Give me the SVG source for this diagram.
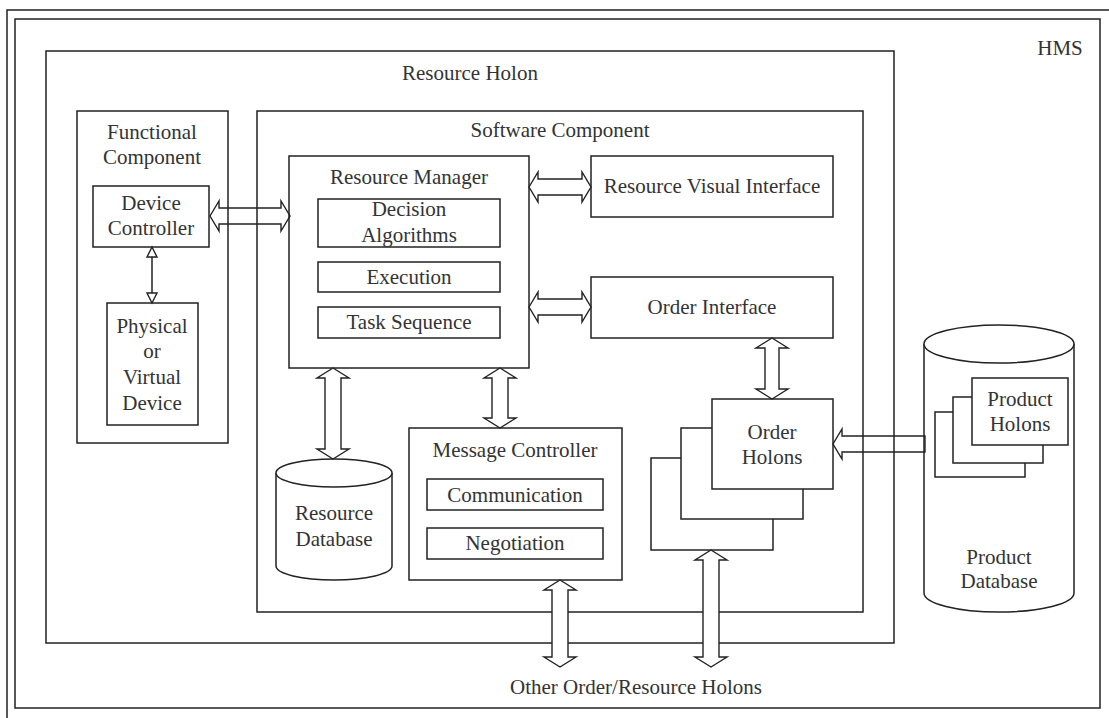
<svg xmlns="http://www.w3.org/2000/svg" width="1109" height="718" viewBox="0 0 1109 718">
<style>
.b{fill:#fff;stroke:#222;stroke-width:1.5}
.n{fill:none;stroke:#222;stroke-width:1.5}
.a{fill:none;stroke:#222;stroke-width:1.4;stroke-linejoin:miter}
.aw{fill:#fff;stroke:#222;stroke-width:1.4}
text{font-family:"Liberation Serif","Times New Roman",serif;font-size:21px;fill:#333;text-anchor:middle}
</style>
<rect width="1109" height="718" fill="#fff"/>
<g id="frame">
<path class="n" d="M7,718 L7,10 L1109,10"/>
</g>
<g id="hms">
<rect class="b" x="15" y="19" width="1085" height="689"/>
<text x="1060" y="55">HMS</text>
</g>
<g id="resource-holon">
<rect class="b" x="46" y="51" width="848" height="592"/>
<text x="470" y="80">Resource Holon</text>
</g>
<g id="functional-component">
<rect class="b" x="77" y="111" width="151" height="332"/>
<text x="152" y="139">Functional</text>
<text x="152" y="164">Component</text>
</g>
<g id="software-component">
<rect class="b" x="257" y="111" width="606" height="501"/>
<text x="560" y="137">Software Component</text>
</g>
<g id="device-controller">
<rect class="b" x="93" y="186" width="116" height="61"/>
<text x="151" y="210">Device</text>
<text x="151" y="235">Controller</text>
</g>
<g id="physical-device">
<rect class="b" x="107" y="303" width="91" height="122"/>
<text x="152" y="333">Physical</text>
<text x="152" y="358">or</text>
<text x="152" y="384">Virtual</text>
<text x="152" y="410">Device</text>
</g>
<g id="resource-manager">
<rect class="b" x="289" y="156" width="240" height="212"/>
<text x="409" y="184">Resource Manager</text>
<rect class="b" x="318" y="199" width="182" height="48"/>
<text x="409" y="216">Decision</text>
<text x="409" y="242">Algorithms</text>
<rect class="b" x="318" y="262" width="182" height="30"/>
<text x="409" y="284">Execution</text>
<rect class="b" x="318" y="307" width="182" height="31"/>
<text x="409" y="329">Task Sequence</text>
</g>
<g id="resource-visual-interface">
<rect class="b" x="591" y="156" width="242" height="61"/>
<text x="712" y="193">Resource Visual Interface</text>
</g>
<g id="order-interface">
<rect class="b" x="591" y="277" width="242" height="61"/>
<text x="712" y="314">Order Interface</text>
</g>
<g id="message-controller">
<rect class="b" x="409" y="428" width="213" height="152"/>
<text x="515" y="457">Message Controller</text>
<rect class="b" x="427" y="479" width="176" height="31"/>
<text x="515" y="502">Communication</text>
<rect class="b" x="427" y="528" width="176" height="31"/>
<text x="515" y="550">Negotiation</text>
</g>
<g id="resource-database">
<path class="b" d="M276,473 L276,566 A58,14 0 0 0 392,566 L392,473"/>
<ellipse class="b" cx="334" cy="473" rx="58" ry="14"/>
<text x="334" y="520">Resource</text>
<text x="334" y="546">Database</text>
</g>
<g id="order-holons">
<rect class="b" x="651" y="458" width="122" height="92"/>
<rect class="b" x="681" y="428" width="122" height="91"/>
<rect class="b" x="712" y="399" width="121" height="90"/>
<text x="772" y="439">Order</text>
<text x="772" y="464">Holons</text>
</g>
<g id="product-database">
<path class="b" d="M924,344 L924,593 A75,19 0 0 0 1074,593 L1074,344"/>
<ellipse class="b" cx="999" cy="344" rx="75" ry="19"/>
<rect class="b" x="935" y="412" width="90" height="65"/>
<rect class="b" x="953" y="397" width="90" height="66"/>
<rect class="b" x="972" y="378" width="96" height="67"/>
<text x="1020" y="406">Product</text>
<text x="1020" y="431">Holons</text>
<text x="999" y="564">Product</text>
<text x="999" y="588">Database</text>
</g>
<g id="other-holons">
<text x="636" y="694">Other Order/Resource Holons</text>
</g>
<g id="connectors">
<path class="a" d="M210,216 L219,201 L219,208 L281,208 L281,201 L290,216 L281,231 L281,224 L219,224 L219,231 Z"/>
<path class="aw" d="M529,187 L538,172 L538,179 L582,179 L582,172 L591,187 L582,202 L582,195 L538,195 L538,202 Z"/>
<path class="aw" d="M529,307 L538,292 L538,299 L582,299 L582,292 L591,307 L582,322 L582,315 L538,315 L538,322 Z"/>
<path class="aw" d="M772,338 L788,348 L779,348 L779,389 L788,389 L772,399 L756,389 L765,389 L765,348 L756,348 Z"/>
<path class="aw" d="M333,368 L349,378 L341,378 L341,449 L349,449 L333,459 L317,449 L325,449 L325,378 L317,378 Z"/>
<path class="aw" d="M500,368 L516,378 L508,378 L508,418 L516,418 L500,428 L484,418 L492,418 L492,378 L484,378 Z"/>
<path class="aw" d="M560,580 L576,590 L568,590 L568,657 L576,657 L560,667 L544,657 L552,657 L552,590 L544,590 Z"/>
<path class="aw" d="M711,550 L727,560 L719,560 L719,657 L727,657 L711,667 L695,657 L703,657 L703,560 L695,560 Z"/>
<path class="a" d="M833,444 L842,429 L842,436 L925,436 L925,452 L842,452 L842,459 Z"/>
<line class="n" x1="152" y1="256" x2="152" y2="294"/>
<path class="aw" d="M152,247 L157,257 L147,257 Z"/>
<path class="aw" d="M152,303 L157,293 L147,293 Z"/>
</g>
</svg>
